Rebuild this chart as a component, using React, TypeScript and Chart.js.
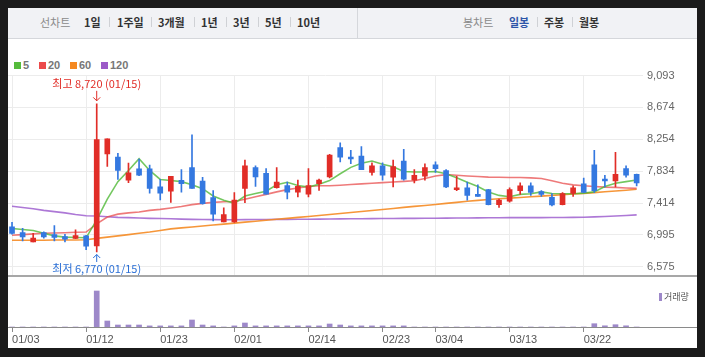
import React, { useEffect, useRef } from "react";
import { Chart, registerables } from "chart.js";

Chart.register(...registerables);

const FONT = '"Liberation Sans", "Noto Sans CJK KR", Arial, sans-serif';
const KFONT = '"Noto Sans CJK KR", "Liberation Sans", sans-serif';

// ---- data ----
const xTickIdx = [0, 7, 14, 21, 28, 35, 40, 47, 54];
const xTickLabels = ["01/03", "01/12", "01/23", "02/01", "02/14", "02/23", "03/04", "03/13", "03/22"];
const yTicks = [6575, 6995, 7414, 7834, 8254, 8674, 9093];
const extremeDate = "01/15";

const opens = [
  7100, 7024, 6903, 7024, 6999, 6974, 6949, 6982, 6850, 8061,
  8019, 7717, 7864, 7864, 7629, 7570, 7712, 7880, 7704, 7486,
  7167, 7167, 7607, 7880, 7805, 7616, 7645, 7557, 7532, 7670,
  7759, 8145, 8019, 8031, 7817, 7905, 7754, 7968, 7717, 7767,
  7918, 7842, 7591, 7616, 7528, 7591, 7393, 7440, 7578, 7641,
  7566, 7490, 7393, 7540, 7666, 7918, 7729, 7704, 7868, 7792,
];
const highs = [
  7160, 7083, 7016, 7037, 7117, 7003, 7062, 6990, 8720, 8258,
  8069, 7939, 7992, 7914, 7725, 7767, 7855, 8313, 7754, 7578,
  7351, 7553, 7981, 7905, 7868, 7880, 7691, 7717, 7868, 7729,
  8057, 8208, 8107, 8157, 7943, 7943, 7981, 8120, 7855, 7931,
  7956, 7855, 7767, 7691, 7654, 7595, 7465, 7616, 7679, 7679,
  7578, 7540, 7553, 7641, 7742, 8107, 7780, 8082, 7905, 7795,
];
const lows = [
  7005, 6915, 6903, 6953, 6915, 6903, 6945, 6802, 6770, 7897,
  7725, 7683, 7775, 7545, 7457, 7423, 7557, 7607, 7400, 7179,
  7165, 7160, 7419, 7633, 7530, 7610, 7469, 7494, 7494, 7582,
  7746, 7956, 7931, 7855, 7780, 7717, 7628, 7717, 7679, 7717,
  7817, 7616, 7578, 7452, 7503, 7390, 7356, 7427, 7528, 7515,
  7503, 7377, 7390, 7503, 7550, 7553, 7628, 7628, 7754, 7641,
];
const closes = [
  7016, 6970, 6953, 6970, 6961, 6940, 6987, 6848, 8250, 8258,
  7843, 7813, 7780, 7608, 7545, 7767, 7670, 7607, 7406, 7267,
  7263, 7452, 7905, 7759, 7532, 7691, 7557, 7633, 7645, 7717,
  8044, 8019, 7994, 7855, 7905, 7780, 7893, 7729, 7780, 7880,
  7868, 7628, 7616, 7515, 7503, 7393, 7452, 7591, 7641, 7553,
  7528, 7389, 7540, 7616, 7553, 7578, 7704, 7792, 7780, 7679,
];
const ma5 = [
  7079, 7066, 7054, 7016, 6982, 6966, 6961, 6957, 7192, 7465,
  7696, 7843, 7998, 7843, 7725, 7712, 7696, 7654, 7603, 7507,
  7452, 7410, 7507, 7540, 7570, 7654, 7687, 7645, 7624, 7662,
  7710, 7800, 7884, 7939, 7968, 7926, 7893, 7830, 7822, 7822,
  7830, 7800, 7746, 7687, 7633, 7559, 7515, 7498, 7528, 7536,
  7561, 7540, 7536, 7536, 7545, 7561, 7633, 7675, 7696, 7717,
];
const ma20 = [
  6991, 6999, 7008, 7016, 7020, 7024, 7029, 7033, 7140, 7230,
  7268, 7285, 7297, 7318, 7331, 7350, 7368, 7393, 7410, 7423,
  7431, 7435, 7465, 7498, 7528, 7561, 7591, 7612, 7633, 7641,
  7641, 7649, 7658, 7666, 7675, 7683, 7691, 7700, 7708, 7738,
  7771, 7788, 7780, 7771, 7763, 7756, 7754, 7750, 7750, 7746,
  7738, 7708, 7675, 7654, 7641, 7633, 7624, 7620, 7612, 7607,
];
const ma60 = [
  6924, 6924, 6924, 6924, 6928, 6928, 6928, 6932, 6949, 6966,
  6982, 6999, 7016, 7033, 7054, 7074, 7087, 7100, 7112, 7125,
  7137, 7150, 7163, 7175, 7188, 7200, 7213, 7226, 7238, 7251,
  7263, 7276, 7290, 7303, 7316, 7330, 7343, 7357, 7370, 7383,
  7396, 7410, 7423, 7437, 7450, 7460, 7470, 7479, 7488, 7497,
  7506, 7515, 7524, 7533, 7542, 7552, 7562, 7572, 7583, 7595,
];
const ma120 = [
  7373, 7356, 7339, 7318, 7301, 7285, 7264, 7247, 7243, 7234,
  7226, 7222, 7217, 7213, 7211, 7207, 7203, 7200, 7198, 7196,
  7195, 7195, 7196, 7197, 7198, 7199, 7200, 7201, 7202, 7203,
  7205, 7206, 7207, 7208, 7209, 7210, 7211, 7212, 7213, 7214,
  7215, 7216, 7217, 7218, 7219, 7220, 7221, 7222, 7222, 7223,
  7223, 7224, 7225, 7226, 7228, 7232, 7238, 7244, 7251, 7259,
];
const volumes = [
  0, 0, 0, 0, 0, 0, 0, 0, 3600, 600,
  200, 200, 200, 110, 110, 110, 110, 700, 200, 110,
  0, 110, 400, 110, 110, 110, 110, 110, 110, 110,
  300, 200, 110, 110, 110, 110, 110, 110, 0, 0,
  0, 0, 0, 0, 0, 0, 0, 0, 0, 0,
  0, 0, 0, 0, 0, 330, 120, 230, 120, 0,
];

const RED = "#e12d27";
const BLUE = "#3478e0";
const VOL = "#9d88c9";
const MA_COLORS = {
  ma5: "rgba(80,185,55,0.8)",
  ma20: "rgba(232,70,70,0.72)",
  ma60: "rgba(245,135,30,0.88)",
  ma120: "rgba(155,90,205,0.82)",
};
const LEGEND = [
  { label: "5", color: "#55bb3c" },
  { label: "20", color: "#ec4a4a" },
  { label: "60", color: "#f5881f" },
  { label: "120", color: "#9c5ac8" },
];

const X_MIN = -0.38;
const X_MAX = 59.6;

const fmt = (v: number) => Number(v).toLocaleString("en-US");

const candleColors = closes.map((c, i) => (c >= opens[i] ? RED : BLUE));

function PriceChart() {
  const ref = useRef<HTMLCanvasElement | null>(null);
  useEffect(() => {
    if (!ref.current) return;
    const hiIdx = highs.indexOf(Math.max(...highs));
    const loIdx = lows.indexOf(Math.min(...lows));
    const annot = {
      id: "annot",
      afterDatasetsDraw(chart: any) {
        const { ctx, scales, chartArea } = chart;
        const xs = scales.x;
        const ys = scales.y;
        ctx.save();
        // separator line at bottom of price panel
        ctx.strokeStyle = "#8a8a8a";
        ctx.lineWidth = 1.5;
        ctx.beginPath();
        ctx.moveTo(0, chartArea.bottom + 0.5);
        ctx.lineTo(chart.width, chartArea.bottom + 0.5);
        ctx.stroke();

        ctx.font = `11px ${KFONT}`;
        ctx.textAlign = "center";
        ctx.textBaseline = "middle";
        // high
        const hx = xs.getPixelForValue(hiIdx);
        const hy = ys.getPixelForValue(highs[hiIdx]);
        ctx.fillStyle = RED;
        ctx.strokeStyle = RED;
        ctx.lineWidth = 1;
        ctx.fillText(`최고 ${fmt(highs[hiIdx])} (${extremeDate})`, hx, hy - 20);
        ctx.beginPath();
        ctx.moveTo(hx, hy - 13);
        ctx.lineTo(hx, hy - 3);
        ctx.moveTo(hx - 3.5, hy - 6.5);
        ctx.lineTo(hx, hy - 3);
        ctx.lineTo(hx + 3.5, hy - 6.5);
        ctx.stroke();
        // low
        const lx = xs.getPixelForValue(loIdx);
        const ly = ys.getPixelForValue(lows[loIdx]);
        ctx.fillStyle = "#2a6fd6";
        ctx.strokeStyle = "#2a6fd6";
        ctx.fillText(`최저 ${fmt(lows[loIdx])} (${extremeDate})`, lx, ly + 17);
        ctx.beginPath();
        ctx.moveTo(lx, ly + 10);
        ctx.lineTo(lx, ly + 2.5);
        ctx.moveTo(lx - 3.5, ly + 6);
        ctx.lineTo(lx, ly + 2.5);
        ctx.lineTo(lx + 3.5, ly + 6);
        ctx.stroke();
        ctx.restore();
      },
    };
    const line = (data: number[], color: string, order: number) => ({
      type: "line" as const,
      data: data.map((v, i) => ({ x: i, y: v })),
      borderColor: color,
      borderWidth: 1.6,
      pointRadius: 0,
      tension: 0,
      fill: false,
      order,
    });
    const chart = new Chart(ref.current, {
      type: "bar",
      data: {
        datasets: [
          {
            type: "bar",
            data: opens.map((o, i) => ({ x: i, y: [o, closes[i]] })) as any,
            backgroundColor: candleColors,
            barThickness: 5,
            grouped: false,
            minBarLength: 1,
            borderWidth: 0,
            order: 0,
          } as any,
          {
            type: "bar",
            data: lows.map((l, i) => ({ x: i, y: [l, highs[i]] })) as any,
            backgroundColor: candleColors,
            barThickness: 1,
            grouped: false,
            borderWidth: 0,
            order: 1,
          } as any,
          line(ma5, MA_COLORS.ma5, 2),
          line(ma20, MA_COLORS.ma20, 3),
          line(ma60, MA_COLORS.ma60, 4),
          line(ma120, MA_COLORS.ma120, 5),
        ],
      },
      options: {
        responsive: false,
        animation: false,
        events: [],
        layout: { padding: { top: 35.5, bottom: 2, left: 0, right: 0 } },
        plugins: { legend: { display: false }, tooltip: { enabled: false } },
        scales: {
          x: {
            type: "linear",
            min: X_MIN,
            max: X_MAX,
            offset: false,
            afterBuildTicks: (s: any) => {
              s.ticks = xTickIdx.map((v) => ({ value: v }));
            },
            afterFit: (s: any) => {
              s.height = 0;
            },
            ticks: { display: false },
            grid: { color: "#ececec", drawTicks: false, offset: false, lineWidth: 1 },
            border: { display: false },
          },
          y: {
            type: "linear",
            position: "right",
            min: 6462,
            max: 9093,
            afterBuildTicks: (s: any) => {
              s.ticks = yTicks.map((v) => ({ value: v }));
            },
            afterFit: (s: any) => {
              s.width = 54;
            },
            ticks: {
              color: "#666",
              font: { family: FONT, size: 11 },
              padding: 4,
              callback: (v: any) => fmt(v),
            },
            grid: { color: "#ececec", drawTicks: false },
            border: { display: false },
          },
        },
      } as any,
      plugins: [annot],
    });
    return () => chart.destroy();
  }, []);
  return (
    <canvas
      ref={ref}
      width={689}
      height={246}
      style={{ position: "absolute", left: 8, top: 40, width: 689, height: 246 }}
    />
  );
}

function VolumeChart() {
  const ref = useRef<HTMLCanvasElement | null>(null);
  useEffect(() => {
    if (!ref.current) return;
    const base = {
      id: "base",
      afterDraw(chart: any) {
        const { ctx, chartArea } = chart;
        ctx.save();
        ctx.strokeStyle = "#8a8a8a";
        ctx.lineWidth = 1.2;
        ctx.beginPath();
        ctx.moveTo(0, chartArea.bottom + 0.5);
        ctx.lineTo(chart.width, chartArea.bottom + 0.5);
        ctx.stroke();
        ctx.restore();
      },
    };
    const chart = new Chart(ref.current, {
      type: "bar",
      data: {
        datasets: [
          {
            data: volumes.map((v, i) => ({ x: i, y: v })) as any,
            backgroundColor: VOL,
            barThickness: 5,
            grouped: false,
            borderWidth: 0,
          } as any,
        ],
      },
      options: {
        responsive: false,
        animation: false,
        events: [],
        layout: { padding: { top: 1, bottom: 0, left: 0, right: 54 } },
        plugins: { legend: { display: false }, tooltip: { enabled: false } },
        scales: {
          x: {
            type: "linear",
            min: X_MIN,
            max: X_MAX,
            offset: false,
            afterBuildTicks: (s: any) => {
              s.ticks = xTickIdx.map((v) => ({ value: v }));
            },
            afterFit: (s: any) => {
              s.height = 21;
            },
            ticks: {
              align: "start",
              color: "#555",
              font: { family: FONT, size: 11 },
              padding: 1,
              maxRotation: 0,
              autoSkip: false,
              callback: (_v: any, i: number) => xTickLabels[i],
            },
            grid: {
              drawOnChartArea: false,
              drawTicks: true,
              tickLength: 5,
              color: "#8a8a8a",
              offset: false,
            },
            border: { display: false },
          },
          y: { display: false, min: 0, max: 4000 },
        },
      } as any,
      plugins: [base],
    });
    return () => chart.destroy();
  }, []);
  return (
    <canvas
      ref={ref}
      width={689}
      height={62}
      style={{ position: "absolute", left: 8, top: 286, width: 689, height: 62 }}
    />
  );
}

const periods = [
  { t: "1일", x: 84 },
  { t: "1주일", x: 117 },
  { t: "3개월", x: 158 },
  { t: "1년", x: 201 },
  { t: "3년", x: 233 },
  { t: "5년", x: 265 },
  { t: "10년", x: 297 },
];
const periodSeps = [109, 151, 194, 226, 258, 290];
const candleTypes = [
  { t: "일봉", x: 509, active: true },
  { t: "주봉", x: 544, active: false },
  { t: "월봉", x: 579, active: false },
];
const candleSeps = [537, 572];

export default function App() {
  const txt = (extra: any) => ({
    position: "absolute" as const,
    top: 15,
    height: 14,
    lineHeight: "14px",
    fontSize: 11,
    fontFamily: KFONT,
    whiteSpace: "nowrap" as const,
    ...extra,
  });
  return (
    <div
      style={{
        position: "fixed",
        left: 0,
        top: 0,
        width: 705,
        height: 357,
        background: "#1b1b1b",
        overflow: "hidden",
      }}
    >
      <div
        style={{
          position: "absolute",
          left: 8,
          top: 8,
          width: 689,
          height: 340,
          background: "#fff",
        }}
      />
      {/* toolbar */}
      <div
        style={{
          position: "absolute",
          left: 8,
          top: 8,
          width: 689,
          height: 30,
          background: "#f1f2f5",
          borderBottom: "1px solid #d5d7db",
        }}
      />
      <div style={{ position: "absolute", left: 357, top: 8, width: 1, height: 30, background: "#d5d7db" }} />
      <span style={txt({ left: 40, color: "#8a8a8a" })}>선차트</span>
      {periods.map((p) => (
        <span key={p.t} style={txt({ left: p.x, color: "#333", fontWeight: 700 })}>
          {p.t}
        </span>
      ))}
      {periodSeps.map((x) => (
        <div key={x} style={{ position: "absolute", left: x, top: 17, width: 1, height: 10, background: "#cfd1d5" }} />
      ))}
      <span style={txt({ left: 463, color: "#8a8a8a" })}>봉차트</span>
      {candleTypes.map((p) => (
        <span
          key={p.t}
          style={txt({ left: p.x, color: p.active ? "#2d55a8" : "#333", fontWeight: 700 })}
        >
          {p.t}
        </span>
      ))}
      {candleSeps.map((x) => (
        <div key={x} style={{ position: "absolute", left: x, top: 17, width: 1, height: 10, background: "#cfd1d5" }} />
      ))}

      {/* MA legend */}
      {LEGEND.map((l, i) => {
        const xs = [14, 39, 70, 101][i];
        return (
          <React.Fragment key={l.label}>
            <div
              style={{ position: "absolute", left: xs, top: 62, width: 7, height: 7, background: l.color }}
            />
            <span
              style={{
                position: "absolute",
                left: xs + 9,
                top: 58,
                lineHeight: "14px",
                fontSize: 11,
                fontWeight: 700,
                color: "#777",
                fontFamily: FONT,
              }}
            >
              {l.label}
            </span>
          </React.Fragment>
        );
      })}

      <PriceChart />
      <VolumeChart />

      {/* volume legend */}
      <div style={{ position: "absolute", left: 659, top: 293, width: 3, height: 8, background: VOL }} />
      <span
        style={{
          position: "absolute",
          left: 664,
          top: 291,
          lineHeight: "12px",
          fontSize: 9,
          color: "#555",
          fontFamily: KFONT,
        }}
      >
        거래량
      </span>
    </div>
  );
}
